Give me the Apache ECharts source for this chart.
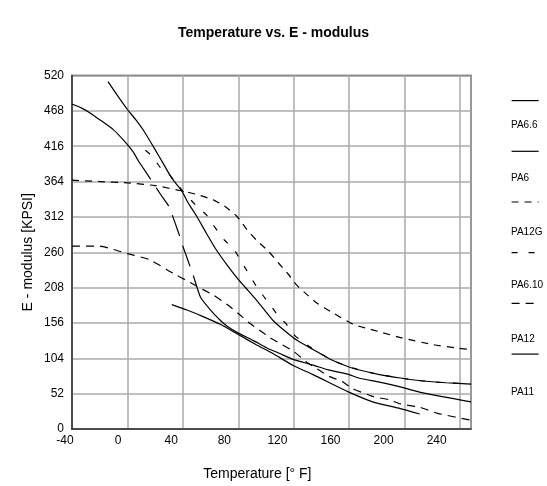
<!DOCTYPE html>
<html><head><meta charset="utf-8">
<script src="https://cdn.jsdelivr.net/npm/echarts@6/dist/echarts.min.js"></script>
<style>html,body{margin:0;padding:0;background:#fff}#c{width:547px;height:486px}</style>
</head><body><div id="c"></div>
<script>
// Tick labels
const xTicks = [-40, 0, 40, 80, 120, 160, 200, 240];
const xMaxF = 248; // = 120 °C
const yTicks = [0, 52, 104, 156, 208, 260, 312, 364, 416, 468, 520];

const legendNames = ['PA6.6', 'PA6', 'PA12G', 'PA6.10', 'PA12', 'PA11'];

// [Temperature °F, E-modulus KPSI]
const pa66 = [[-14,511],[-7,490],[0,470],[6,455],[12,438],[20,411],[26,390],[32,369],[39,351],[44,332],[50,313],[57,288],[64,264],[72,241],[80,220],[87,204],[93,190],[99,175],[105,160],[112,147],[120,134],[127,125],[134,117],[146,103],[159,92],[169,86],[182,80],[197,75],[212,71],[230,68],[248,66]];
const pa6Low = [[-40,478],[-33,472],[-27,465],[-20,455],[-10,440],[-2,423],[4,408],[8,394]];
const pa6Drop = [[8,394],[13,379],[24,345],[30,327],[37,288],[40,269],[47,229],[50,210]];
const pa6High = [[50,210],[53,193],[60,175],[67,160],[72,151],[80,141],[91,130],[100,120],[110,111],[120,102],[134,94],[145,87],[160,80],[167,75],[182,69],[197,62],[204,58],[216,52],[248,40]];
const pa12g = [[-40,366],[-20,364],[0,362],[20,358],[40,350],[50,345],[62,337],[70,328],[79,313],[86,294],[93,278],[102,261],[110,242],[116,228],[122,212],[130,197],[137,185],[149,170],[163,154],[173,148],[182,143],[198,134],[221,124],[238,119],[248,117]];
const pa610 = [[13,410],[18,401],[24,384],[30,375],[34,365],[40,350],[49,330],[57,315],[62,300],[67,286],[70,278],[77,264],[80,254],[85,237],[88,227],[93,210],[98,196],[103,183],[110,163],[114,156],[121,137],[125,131],[133,119],[137,114],[146,103],[159,92],[169,86],[182,80],[197,75],[212,71],[230,68],[248,66]];
const pa12 = [[-40,269],[-20,269],[-10,264],[0,258],[16,249],[33,229],[44,217],[50,210],[62,197],[72,183],[80,170],[88,156],[97,143],[103,134],[110,126],[120,114],[129,99],[138,87],[146,77],[155,70],[162,60],[177,48],[189,43],[197,37],[211,32],[224,23],[248,13]];
const pa11 = [[32,183],[43,175],[55,165],[67,154],[80,139],[93,124],[105,111],[120,93],[134,80],[147,67],[159,55],[177,40],[197,30],[211,22]];

const FONT = 'Liberation Sans, Arial, sans-serif';
function line(name, data, type) {
  return {
    name: name, type: 'line', data: data, xAxisIndex: 0, yAxisIndex: 0,
    symbol: 'none', smooth: 0.2, silent: true,
    itemStyle: { color: '#000' },
    lineStyle: { color: '#000', width: 1.2, type: type }
  };
}

const chart = echarts.init(document.getElementById('c'));
chart.setOption({
  animation: false,
  backgroundColor: '#fff',
  color: ['#000'],
  textStyle: { fontFamily: FONT },
  title: {
    text: 'Temperature vs. E - modulus', left: 'center', top: 21,
    textStyle: { fontSize: 14, fontWeight: 'bold', color: '#000', fontFamily: FONT }
  },
  legend: [
    {
      data: legendNames, orient: 'vertical', left: 511, top: 95, padding: 0,
      itemWidth: 27, itemHeight: 14, itemGap: 39.5,
      formatter: function () { return ''; },
      itemStyle: { opacity: 0 },
      lineStyle: { width: 1.2 },
      textStyle: { fontSize: 8, lineHeight: 8 },
      selectedMode: false
    },
    {
      data: legendNames, orient: 'vertical', left: 502, top: 120, padding: 0,
      itemWidth: 0, itemHeight: 10, itemGap: 43.5,
      lineStyle: { opacity: 0 }, itemStyle: { opacity: 0 },
      textStyle: { fontSize: 10, lineHeight: 10, color: '#000', fontFamily: FONT },
      selectedMode: false
    }
  ],
  grid: [
    { left: 72, right: 76, top: 75.5, bottom: 57, show: true, borderColor: '#333', borderWidth: 1.5 },
    { left: 65, right: 110.3, top: 75.5, bottom: 57 }
  ],
  xAxis: [
    {
      gridIndex: 0, type: 'value', min: xTicks[0], max: xMaxF, interval: 40,
      axisLine: { show: true, onZero: false, lineStyle: { color: '#333', width: 1.5 } },
      axisTick: { show: false }, axisLabel: { show: false },
      splitLine: { show: true, lineStyle: { color: '#aaa', width: 1.5 } }
    },
    {
      gridIndex: 1, type: 'value', min: xTicks[0], max: xTicks[xTicks.length - 1], interval: 40,
      axisLine: { show: false }, axisTick: { show: false }, splitLine: { show: false },
      axisLabel: { margin: 13, fontSize: 12, color: '#000', fontFamily: FONT },
      name: 'Temperature [° F]', nameLocation: 'middle', nameGap: 45, nameMoveOverlap: false,
      nameTextStyle: { fontSize: 14, color: '#000', fontFamily: FONT, padding: [0, 0, 0, 13] }
    }
  ],
  yAxis: [
    {
      gridIndex: 0, type: 'value', min: yTicks[0], max: yTicks[yTicks.length - 1], interval: 52,
      axisLine: { show: true, onZero: false, lineStyle: { color: '#333', width: 1.5 } },
      axisTick: { show: false },
      axisLabel: { margin: 8, fontSize: 12, color: '#000', fontFamily: FONT },
      splitLine: { show: true, lineStyle: { color: '#aaa', width: 1.5 } },
      name: 'E - modulus [KPSI]', nameLocation: 'middle', nameGap: 37, nameMoveOverlap: false,
      nameTextStyle: { fontSize: 14, color: '#000', fontFamily: FONT }
    },
    { gridIndex: 1, type: 'value', show: false, min: 0, max: 520 }
  ],
  series: [
    line('PA6.6', pa66, 'solid'),
    line('PA6', pa6Low, 'solid'),
    line('PA6', pa6Drop, [22, 10]),
    line('PA6', pa6High, 'solid'),
    line('PA12G', pa12g, [7, 6]),
    line('PA6.10', pa610, [6, 11]),
    line('PA12', pa12, [8, 6]),
    line('PA11', pa11, 'solid')
  ]
});
</script>
</body></html>
